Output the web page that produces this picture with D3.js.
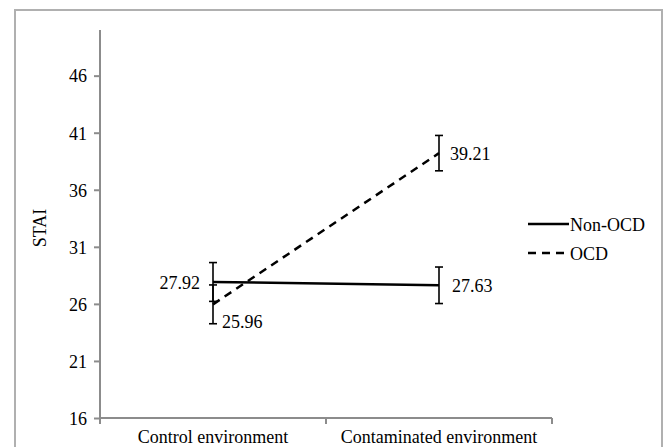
<!DOCTYPE html>
<html><head><meta charset="utf-8">
<script src="https://cdnjs.cloudflare.com/ajax/libs/d3/7.8.5/d3.min.js"></script>
<style>body{margin:0;background:#fff}svg{display:block}text{font-family:"Liberation Serif","Times New Roman",serif}</style>
</head><body>
<script>
const categories = ["Control environment", "Contaminated environment"];
const seriesNames = ["Non-OCD", "OCD"];
const nonOcdValues = [27.92, 27.63];
const ocdValues = [25.96, 39.21];
const nonOcdErrors = [1.7, 1.6];
const ocdErrors = [1.7, 1.55];
const yTicks = [16, 21, 26, 31, 36, 41, 46];
const yLabel = "STAI";

const W = 667, H = 447;
const FS = 18;
const svg = d3.select("body").append("svg").attr("width", W).attr("height", H);
const font = "Liberation Serif, Times New Roman, serif";

svg.append("rect").attr("x", 15).attr("y", 10).attr("width", 647).attr("height", 460)
  .attr("fill", "none").attr("stroke", "#b0b0b0").attr("stroke-width", 2);

const x = d3.scaleBand().domain(categories).range([100, 552]).padding(0);
const y = d3.scaleLinear().domain([16, 50]).range([418, 30]);

// y axis
const yAxis = svg.append("g").attr("transform", "translate(100,0)")
  .call(d3.axisLeft(y).tickValues(yTicks).tickSize(6).tickPadding(7).tickFormat(d3.format("d")));
yAxis.select(".domain").attr("d", `M0,${y(16)}V${y(50)}`);
// x axis
const xAxis = svg.append("g").attr("transform", `translate(0,${y(16)})`)
  .call(d3.axisBottom(x).tickSize(0).tickPadding(12));
xAxis.select(".domain").attr("d", `M100,0H552`);
const bounds = [x.range()[0], x(categories[1]), x.range()[1]];
xAxis.selectAll(".bt").data(bounds).enter().append("line").attr("class", "bt")
  .attr("x1", d => d).attr("x2", d => d).attr("y1", 0).attr("y2", 6);

[yAxis, xAxis].forEach(g => {
  g.attr("font-family", font);
  g.selectAll(".domain,.tick line,.bt").attr("stroke", "#8c8c8c").attr("stroke-width", 2);
  g.selectAll("text").style("font-family", font).attr("font-size", FS).attr("fill", "#000");
});
yAxis.selectAll("text").attr("dy", "0.35em");
xAxis.selectAll("text").attr("dy", "0.71em");

svg.append("text").attr("transform", `translate(46,${(y(16)+y(50))/2+4}) rotate(-90)`)
  .attr("text-anchor", "middle").style("font-family", font).attr("font-size", FS).text(yLabel);

const cx = c => x(c) + x.bandwidth() / 2;
const series = [
  {name: seriesNames[0], vals: nonOcdValues, errs: nonOcdErrors, dash: null},
  {name: seriesNames[1], vals: ocdValues, errs: ocdErrors, dash: "8,6"}
];
const line = d3.line().x((d, i) => cx(categories[i])).y(d => y(d));

series.forEach(s => {
  s.vals.forEach((v, i) => {
    const px = cx(categories[i]);
    const g = svg.append("g").attr("stroke", "#000").attr("stroke-width", 1.6);
    g.append("line").attr("x1", px).attr("x2", px).attr("y1", y(v + s.errs[i])).attr("y2", y(v - s.errs[i]));
    [v + s.errs[i], v - s.errs[i]].forEach(e =>
      g.append("line").attr("x1", px - 4).attr("x2", px + 4).attr("y1", y(e)).attr("y2", y(e)));
  });
  svg.append("path").datum(s.vals).attr("d", line).attr("fill", "none")
    .attr("stroke", "#000").attr("stroke-width", 2.5).attr("stroke-dasharray", s.dash);
});

const lbl = (t, px, py, anchor) => svg.append("text").attr("x", px).attr("y", py)
  .attr("text-anchor", anchor).style("font-family", font).attr("font-size", FS).text(t);
lbl(nonOcdValues[0].toFixed(2), cx(categories[0]) - 13, y(nonOcdValues[0]) + 7, "end");
lbl(ocdValues[0].toFixed(2), cx(categories[0]) + 9, y(ocdValues[0]) + 24, "start");
lbl(nonOcdValues[1].toFixed(2), cx(categories[1]) + 13, y(nonOcdValues[1]) + 7, "start");
lbl(ocdValues[1].toFixed(2), cx(categories[1]) + 11, y(ocdValues[1]) + 7, "start");

series.forEach((s, i) => {
  const ly = 224 + i * 29;
  svg.append("line").attr("x1", 528).attr("x2", 569).attr("y1", ly).attr("y2", ly)
    .attr("stroke", "#000").attr("stroke-width", 2.5).attr("stroke-dasharray", s.dash);
  svg.append("text").attr("x", 570).attr("y", ly + 7).style("font-family", font)
    .attr("font-size", FS).text(s.name);
});
</script>
</body></html>
